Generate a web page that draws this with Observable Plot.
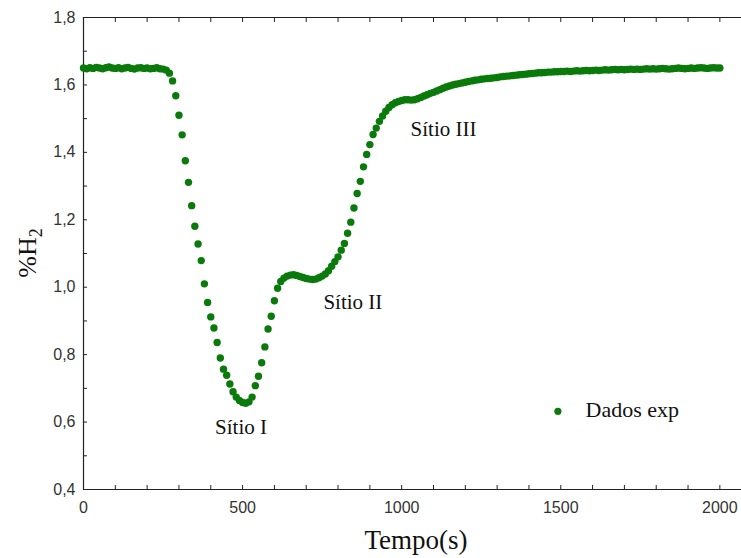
<!DOCTYPE html>
<html>
<head>
<meta charset="utf-8">
<script src="https://cdn.jsdelivr.net/npm/d3@7"></script>
<script src="https://cdn.jsdelivr.net/npm/@observablehq/plot@0.6"></script>
<style>
  html, body { margin: 0; padding: 0; background: #fff; }
  #chart svg { display: block; }
</style>
</head>
<body>
<div id="chart"></div>
<script>
// Sampling times (s)
const times = [
  0,10,20,30,40,50,60,70,80,90,
  100,110,120,130,140,150,160,170,180,190,
  200,210,220,230,240,250,260,270,280,290,
  300,310,320,330,340,350,360,370,380,390,
  400,410,420,430,440,450,460,470,480,490,
  500,510,520,530,540,550,560,570,580,590,
  600,610,620,630,640,650,660,670,680,690,
  700,710,720,730,740,750,760,770,780,790,
  800,810,820,830,840,850,860,870,880,890,
  900,910,920,930,940,950,960,970,980,990,
  1000,1010,1020,1030,1040,1050,1060,1070,1080,1090,
  1100,1110,1120,1130,1140,1150,1160,1170,1180,1190,
  1200,1210,1220,1230,1240,1250,1260,1270,1280,1290,
  1300,1310,1320,1330,1340,1350,1360,1370,1380,1390,
  1400,1410,1420,1430,1440,1450,1460,1470,1480,1490,
  1500,1510,1520,1530,1540,1550,1560,1570,1580,1590,
  1600,1610,1620,1630,1640,1650,1660,1670,1680,1690,
  1700,1710,1720,1730,1740,1750,1760,1770,1780,1790,
  1800,1810,1820,1830,1840,1850,1860,1870,1880,1890,
  1900,1910,1920,1930,1940,1950,1960,1970,1980,1990,
  2000
];
// %H2 readings
const h2 = [
  1.650,1.648,1.651,1.649,1.652,1.650,1.648,1.651,1.653,1.650,
  1.649,1.651,1.648,1.650,1.652,1.649,1.647,1.650,1.651,1.649,
  1.650,1.648,1.649,1.651,1.648,1.647,1.644,1.635,1.612,1.568,
  1.510,1.452,1.375,1.311,1.242,1.181,1.128,1.079,1.010,0.955,
  0.912,0.879,0.836,0.790,0.757,0.739,0.713,0.690,0.674,0.664,
  0.658,0.656,0.660,0.674,0.708,0.736,0.776,0.823,0.876,0.914,
  0.960,0.997,1.017,1.027,1.033,1.036,1.037,1.035,1.032,1.029,
  1.026,1.024,1.023,1.024,1.028,1.033,1.039,1.049,1.062,1.076,
  1.090,1.110,1.130,1.160,1.193,1.235,1.278,1.314,1.357,1.394,
  1.423,1.453,1.472,1.492,1.508,1.522,1.533,1.541,1.547,1.551,
  1.554,1.556,1.556,1.555,1.556,1.559,1.563,1.567,1.571,1.575,
  1.578,1.582,1.586,1.590,1.594,1.597,1.600,1.602,1.604,1.606,
  1.608,1.610,1.612,1.614,1.615,1.617,1.618,1.619,1.620,1.621,
  1.622,1.624,1.625,1.626,1.627,1.628,1.629,1.630,1.631,1.632,
  1.633,1.634,1.635,1.636,1.636,1.637,1.638,1.638,1.639,1.639,
  1.640,1.640,1.641,1.640,1.641,1.642,1.641,1.642,1.643,1.642,
  1.643,1.644,1.643,1.644,1.645,1.644,1.645,1.646,1.645,1.646,
  1.645,1.646,1.647,1.646,1.647,1.646,1.647,1.648,1.647,1.648,
  1.647,1.648,1.649,1.648,1.647,1.648,1.649,1.650,1.649,1.648,
  1.649,1.650,1.649,1.650,1.651,1.650,1.649,1.650,1.651,1.650,
  1.650
];

const xMajorTicks = [0, 500, 1000, 1500, 2000];
const xMinorTicks = [0,100,200,300,400,500,600,700,800,900,1000,1100,1200,1300,1400,1500,1600,1700,1800,1900,2000];
const yMajorTicks = [0.4, 0.6, 0.8, 1.0, 1.2, 1.4, 1.6, 1.8];
const yMinorTicks = [0.4,0.5,0.6,0.7,0.8,0.9,1.0,1.1,1.2,1.3,1.4,1.5,1.6,1.7,1.8];
const siteLabels = ["Sítio I", "Sítio II", "Sítio III"];
const seriesName = "Dados exp";
const xTitle = "Tempo(s)";

const data = times.map((t, i) => ({t, v: h2[i]}));
const green = "#0a7a0a";
const axisColor = "#222";
const serif = "'Liberation Serif', 'Times New Roman', serif";
const fmt = d => d3.format(".1f")(d).replace(".", ",");

const chart = Plot.plot({
  width: 741,
  height: 558,
  marginLeft: 83,
  marginRight: 0,
  marginTop: 17,
  marginBottom: 69,
  style: {fontFamily: "'Liberation Sans', Arial, sans-serif", background: "#fff"},
  x: {domain: [0, 2068]},
  y: {domain: [0.4, 1.8]},
  marks: [
    // frame lines
    Plot.ruleY([0.4, 1.8], {stroke: axisColor, strokeWidth: 1.2}),
    Plot.ruleX([0], {stroke: axisColor, strokeWidth: 1.2}),
    // inward ticks
    Plot.axisX({anchor: "bottom", ticks: xMinorTicks, tickSize: -4, tickFormat: () => "", stroke: axisColor, label: null}),
    Plot.axisX({anchor: "top", ticks: xMinorTicks, tickSize: -4, tickFormat: () => "", stroke: axisColor, label: null}),
    Plot.axisY({anchor: "left", ticks: yMinorTicks, tickSize: -4, tickFormat: () => "", stroke: axisColor, label: null}),
    // tick labels
    Plot.axisX({anchor: "bottom", ticks: xMajorTicks, tickSize: 0, tickPadding: 12, tickFormat: d => String(d), fontSize: 16, fill: "#333", label: null}),
    Plot.axisY({anchor: "left", ticks: yMajorTicks, tickSize: 0, tickPadding: 8, tickFormat: fmt, fontSize: 16, fill: "#333", label: null}),
    // data
    Plot.dot(data, {x: "t", y: "v", r: 3.7, fill: green, stroke: null}),
    // annotations
    Plot.text([siteLabels[0]], {x: () => 495, y: () => 0.584, text: d => d, textAnchor: "middle", fontSize: 21, fontFamily: serif, fill: "#111"}),
    Plot.text([siteLabels[1]], {x: () => 754, y: () => 0.955, text: d => d, textAnchor: "start", fontSize: 21, fontFamily: serif, fill: "#111"}),
    Plot.text([siteLabels[2]], {x: () => 1028, y: () => 1.468, text: d => d, textAnchor: "start", fontSize: 21, fontFamily: serif, fill: "#111"}),
    // legend
    Plot.dot([seriesName], {x: () => 1491, y: () => 0.632, r: 3.6, fill: green, stroke: null}),
    Plot.text([seriesName], {x: () => 1578, y: () => 0.635, text: d => d, textAnchor: "start", fontSize: 22, fontFamily: serif, fill: "#111"})
  ]
});

const svg = d3.select(chart);
svg.append("text")
  .attr("x", 416).attr("y", 549)
  .attr("text-anchor", "middle")
  .attr("font-family", serif)
  .attr("font-size", 27)
  .attr("fill", "#111")
  .text(xTitle);

const yl = svg.append("text")
  .attr("transform", "translate(36,253) rotate(-90)")
  .attr("text-anchor", "middle")
  .attr("font-family", serif)
  .attr("font-size", 26)
  .attr("fill", "#111");
yl.append("tspan").text("%H");
yl.append("tspan").attr("font-size", 18).attr("dy", 6).text("2");

document.getElementById("chart").appendChild(chart);
</script>
</body>
</html>
